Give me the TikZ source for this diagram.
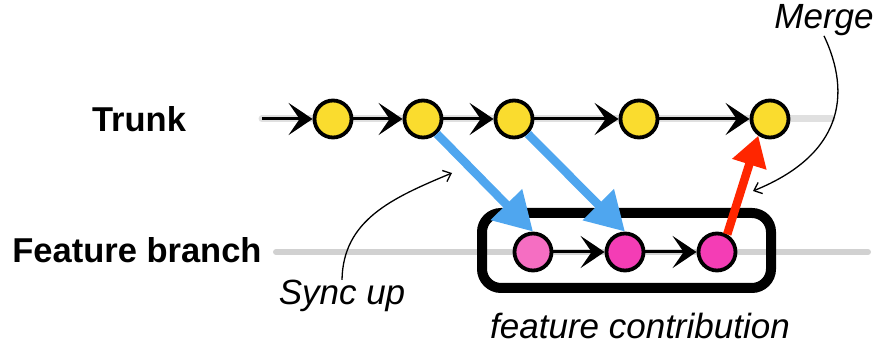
\documentclass[tikz,border=0pt]{standalone}
\usepackage{fontspec}
\setmainfont{Liberation Sans}
\usetikzlibrary{arrows.meta}

\definecolor{commityellow}{HTML}{FADC2E}
\definecolor{commitpink}{HTML}{F43DB5}
\definecolor{commitpinklight}{HTML}{F56EC2}
\definecolor{syncblue}{HTML}{4FA6EF}
\definecolor{mergered}{HTML}{FF2600}

\tikzset{
  commit/.style={circle, draw=black, line width=3.8pt, minimum size=37pt, inner sep=0pt},
  trunkcommit/.style={commit, fill=commityellow},
  featurecommit/.style={commit, fill=commitpink},
  haze/.style={line width=7pt, black!12, line cap=round},
  flow/.style={line width=3pt, black, -{Stealth[length=24pt,width=32pt,inset=11pt]}},
  syncarrow/.style={line width=8.5pt, syncblue, -{Triangle[length=38pt,width=42pt]}},
  mergearrow/.style={line width=8.5pt, mergered, -{Triangle[length=30pt,width=34pt]}},
  note/.style={line width=1.3pt, black, -{Straight Barb[length=7pt,width=12pt]}},
  branchlabel/.style={font=\bfseries\fontsize{34.5}{41}\selectfont, inner sep=0pt},
  annot/.style={font=\itshape\fontsize{35}{42}\selectfont, inner sep=0pt},
  contribution/.style={draw=black, line width=10pt, rounded corners=19pt,
    minimum width=289pt, minimum height=75pt, inner sep=0pt},
}

\begin{document}
\begin{tikzpicture}[x=1pt, y=-1pt]
  \useasboundingbox (0,0) rectangle (876,347);

  % line ends
  \coordinate (tstart) at (262,119);
  \coordinate (tend)   at (832,119);
  \coordinate (fstart) at (276,252);
  \coordinate (fend)   at (868,252);

  % grey pencil haze behind both lines
  \draw[haze] (tstart) -- (tend);
  \draw[haze, line width=6pt, black!18] (fstart) -- (fend);

  % branch labels
  \node[branchlabel] (trunklbl) at (139,119) {Trunk};
  \node[branchlabel] (featlbl)  at (137,250) {Feature branch};

  % trunk commits
  \node[trunkcommit] (t1) at (333,119) {};
  \node[trunkcommit] (t2) at (423,119) {};
  \node[trunkcommit] (t3) at (514,119) {};
  \node[trunkcommit] (t4) at (639,119) {};
  \node[trunkcommit] (t5) at (770,119) {};

  % feature commits
  \node[featurecommit, fill=commitpinklight] (f1) at (533,252) {};
  \node[featurecommit] (f2) at (625,252) {};
  \node[featurecommit] (f3) at (717,252) {};

  % trunk history
  \draw[flow] (tstart) -- (t1);
  \draw[flow] (t1) -- (t2);
  \draw[flow] (t2) -- (t3);
  \draw[flow] (t3) -- (t4);
  \draw[flow] (t4) -- (t5);

  % feature history
  \draw[flow] (f1) -- (f2);
  \draw[flow] (f2) -- (f3);

  % frame round the feature contribution
  \node[contribution] (box) at (626.5,250.5) {};
  \node[annot] (contriblbl) at (640,326) {feature contribution};

  % sync from trunk into the branch
  \draw[syncarrow] (t2.-47) -- (f1.north);
  \draw[syncarrow] (t3.-47) -- (f2.north);

  % merge back into trunk
  \draw[mergearrow] (f3.60) -- (t5.235);

  % annotations
  \node[annot] (mergelbl) at (824,20) {Merge};
  \coordinate (mergetip) at (753,191);
  \draw[note] (mergelbl.south) .. controls (852,95) and (842,155) .. (mergetip);

  \node[annot] (synclbl) at (342,296) {Sync up};
  \coordinate (synctip) at (452,173);
  \draw[note] (synclbl.north) .. controls (343,220) and (392,198) .. (synctip);
\end{tikzpicture}
\end{document}
